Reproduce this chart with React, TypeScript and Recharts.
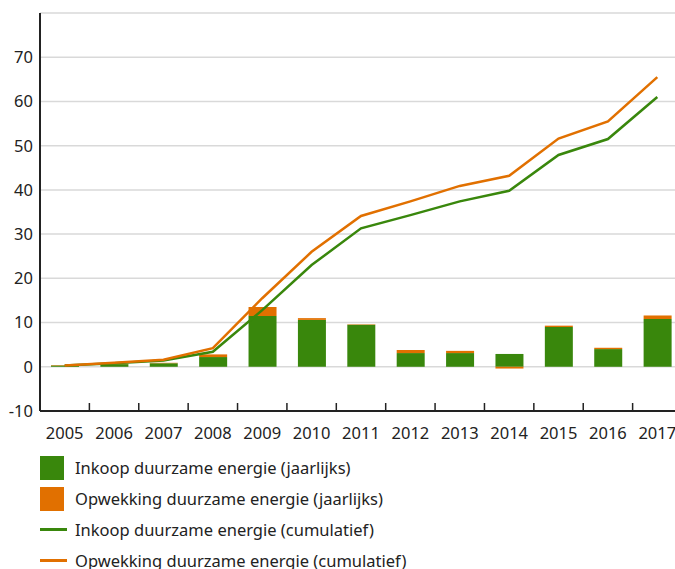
import React from "react"
import { ComposedChart, Bar, Line, XAxis, YAxis, CartesianGrid } from "recharts"

const years = ["2005", "2006", "2007", "2008", "2009", "2010", "2011", "2012", "2013", "2014", "2015", "2016", "2017"]
const inkoopJaar = [0.3, 0.6, 0.8, 2.2, 11.5, 10.6, 9.5, 3.1, 3.1, 2.9, 9.0, 4.0, 10.8]
const opwekkingJaar = [0.1, 0.1, 0.1, 0.6, 2.0, 0.4, 0.1, 0.7, 0.5, -0.4, 0.3, 0.3, 0.8]
const inkoopCum = [0.3, 0.8, 1.4, 3.4, 12.8, 23.0, 31.3, 34.3, 37.4, 39.8, 47.9, 51.5, 61.0]
const opwekkingCum = [0.3, 0.9, 1.6, 4.2, 15.5, 26.0, 34.1, 37.4, 40.9, 43.2, 51.6, 55.5, 65.5]
const yTicks = [-10, 0, 10, 20, 30, 40, 50, 60, 70]

const GREEN = "#39870c"
const ORANGE = "#e17000"
const INK = "#222"
const FONT = "'Noto Sans', sans-serif"

const legendItems = [
    { label: "Inkoop duurzame energie (jaarlijks)", color: GREEN, kind: "box" },
    { label: "Opwekking duurzame energie (jaarlijks)", color: ORANGE, kind: "box" },
    { label: "Inkoop duurzame energie (cumulatief)", color: GREEN, kind: "line" },
    { label: "Opwekking duurzame energie (cumulatief)", color: ORANGE, kind: "line" },
]

const data = years.map((year, i) => ({
    year,
    inkoopJaar: inkoopJaar[i],
    opwekkingJaar: opwekkingJaar[i],
    inkoopCum: inkoopCum[i],
    opwekkingCum: opwekkingCum[i],
}))

const CHART_W = 690
const PLOT_LEFT = 40
const PLOT_RIGHT = 8
const band = (CHART_W - PLOT_LEFT - PLOT_RIGHT) / years.length

const YearTick = (props: any) => {
    const { x, y, payload } = props
    return (
        <g>
            <line x1={x - band / 2} x2={x - band / 2} y1={y - 8} y2={y} stroke={INK} strokeWidth={1.5} />
            <text x={x} y={y + 28} textAnchor="middle" fill={INK} fontSize={16.5} fontFamily={FONT}>
                {payload.value}
            </text>
        </g>
    )
}

const App = () => {
    return (
        <div style={{ position: "absolute", left: 0, top: 0, width: 675, height: 569, overflow: "hidden", background: "#fff", fontFamily: FONT }}>
            <ComposedChart
                width={CHART_W}
                height={450}
                data={data}
                stackOffset="sign"
                margin={{ top: 13, right: PLOT_RIGHT, left: 0, bottom: 0 }}
            >
                <CartesianGrid vertical={false} stroke="#d9d9d9" strokeWidth={1.5} />
                <XAxis
                    dataKey="year"
                    height={39}
                    tickLine={false}
                    tickSize={0}
                    tickMargin={0}
                    interval={0}
                    axisLine={{ stroke: INK, strokeWidth: 2 }}
                    tick={<YearTick />}
                />
                <YAxis
                    width={PLOT_LEFT}
                    domain={[-10, 80]}
                    ticks={yTicks}
                    tickLine={false}
                    tickSize={0}
                    tickMargin={7}
                    axisLine={{ stroke: INK, strokeWidth: 2 }}
                    tick={{ fill: INK, fontSize: 16.5, fontFamily: FONT }}
                />
                <Bar dataKey="inkoopJaar" stackId="a" fill={GREEN} barSize={28} isAnimationActive={false} />
                <Bar dataKey="opwekkingJaar" stackId="a" fill={ORANGE} barSize={28} isAnimationActive={false} />
                <Line type="linear" dataKey="inkoopCum" stroke={GREEN} strokeWidth={2.5} dot={false} isAnimationActive={false} />
                <Line type="linear" dataKey="opwekkingCum" stroke={ORANGE} strokeWidth={2.5} dot={false} isAnimationActive={false} />
            </ComposedChart>
            <div style={{ position: "absolute", left: 40, top: 452 }}>
                {legendItems.map(item => (
                    <div key={item.label} style={{ display: "flex", alignItems: "center", height: 31, color: INK, fontSize: 16.5 }}>
                        <div style={{ width: 27, display: "flex", alignItems: "center" }}>
                            {item.kind === "box"
                                ? <div style={{ width: 24, height: 24, background: item.color }} />
                                : <div style={{ width: 27, height: 3, background: item.color }} />}
                        </div>
                        <span style={{ marginLeft: 8, whiteSpace: "nowrap" }}>{item.label}</span>
                    </div>
                ))}
            </div>
        </div>
    )
}

export default App
